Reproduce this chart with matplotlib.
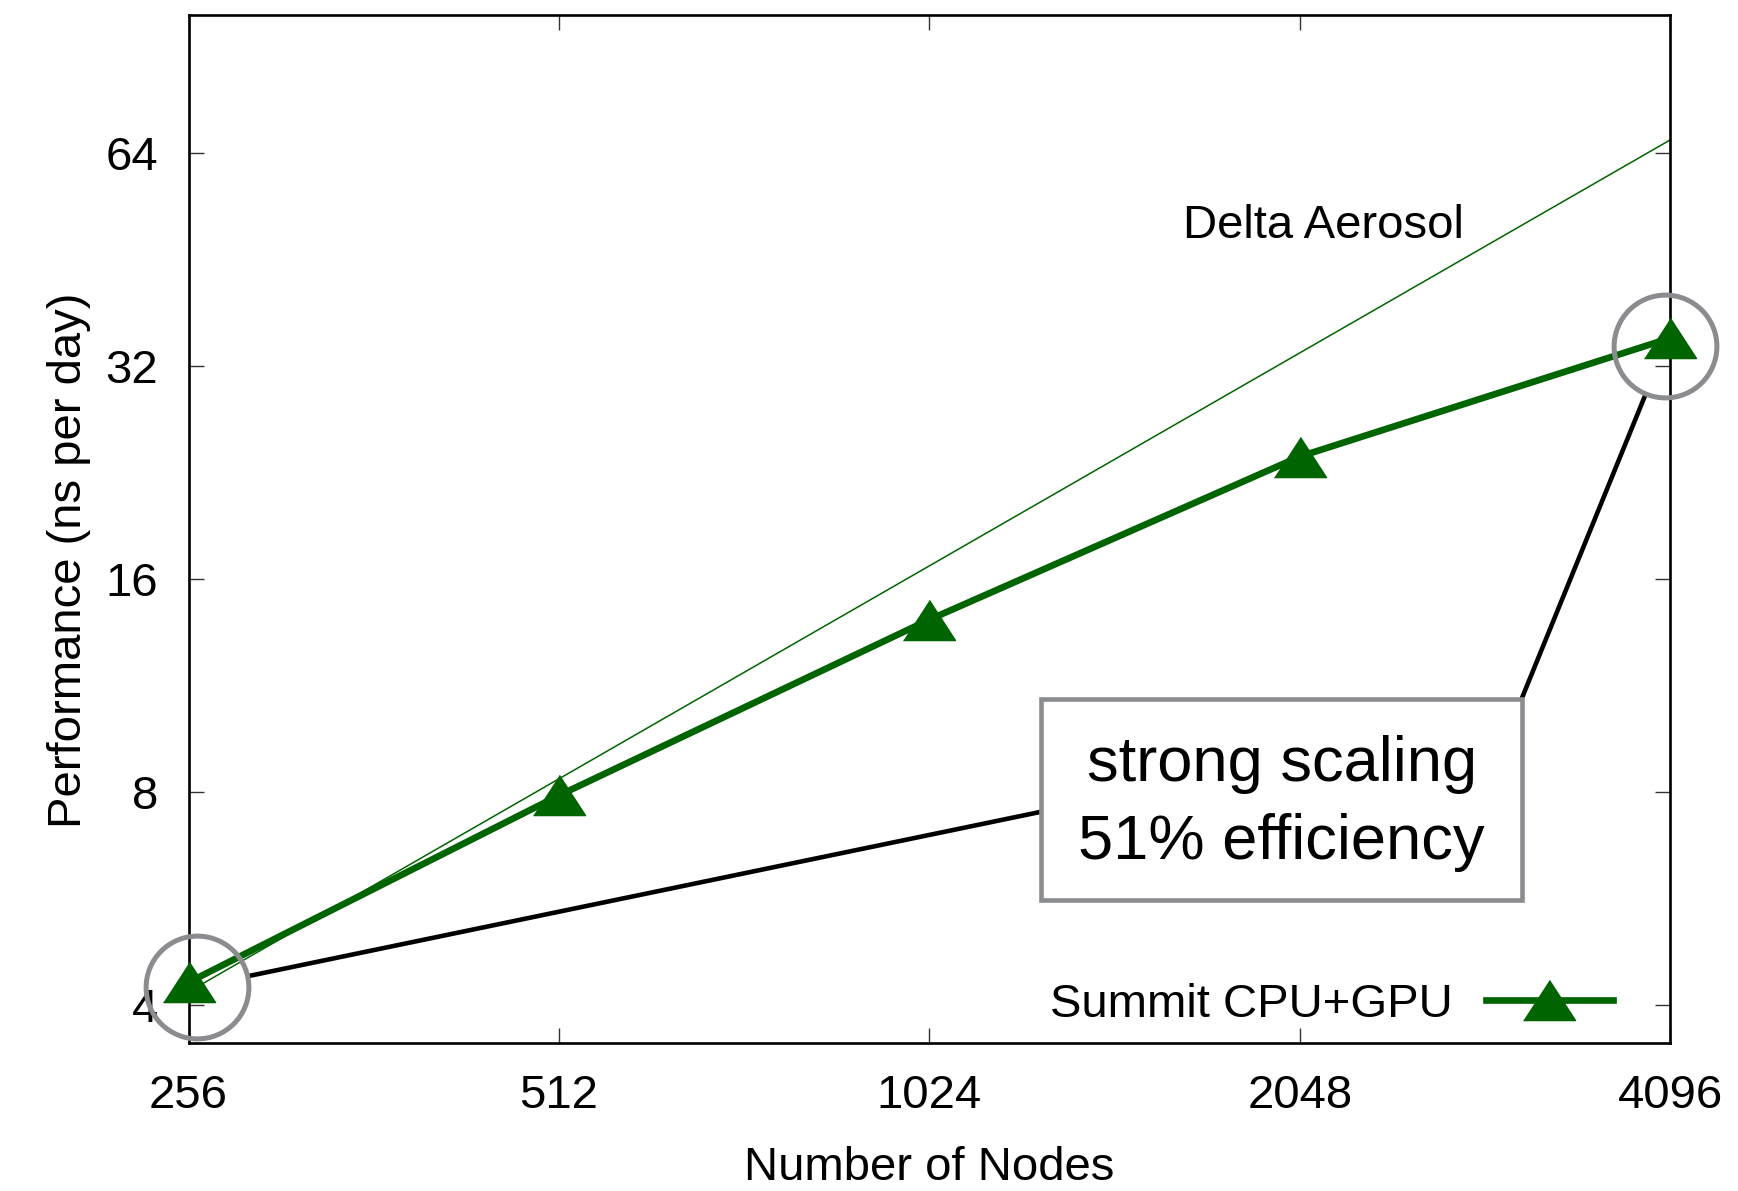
import matplotlib
matplotlib.use('Agg')
import matplotlib.pyplot as plt
from matplotlib.patches import Rectangle
from matplotlib.transforms import offset_copy

plt.rcParams['font.family'] = ['Liberation Sans', 'DejaVu Sans']

# data (ns/day vs node count, log2 axes)
nodes = [256, 512, 1024, 2048, 4096]
perf = [4.3, 7.9, 14.0, 23.8, 35.0]
ideal_nodes = [256, 4096]
ideal_perf = [4.17, 66.7]
x_ticks = [256, 512, 1024, 2048, 4096]
y_ticks = [4, 8, 16, 32, 64]

green = '#006400'
gray = '#8a8c90'

fig = plt.figure(figsize=(17.38, 11.91), dpi=100)
ax = fig.add_axes([0.1085, 0.1243, 0.8525, 0.8627])

ax.set_xscale('log', base=2)
ax.set_yscale('log', base=2)
ax.set_xlim(256, 4096)
ax.set_ylim(3.53, 100)
ax.set_xticks(x_ticks)
ax.set_xticklabels([str(v) for v in x_ticks])
ax.set_yticks(y_ticks)
ax.set_yticklabels([str(v) for v in y_ticks])
ax.minorticks_off()
ax.tick_params(which='major', direction='in', length=10.8, width=1, color='#333333',
               top=True, right=True, labelsize=34, pad=22)
for s in ax.spines.values():
    s.set_linewidth(1.9)

# ideal scaling line + measured
tri = [(-1, -0.77), (1, -0.77), (0, 0.77)]
ax.plot(ideal_nodes, ideal_perf, color=green, lw=1.1, zorder=2)
ax.plot(nodes, perf, color=green, lw=4.8, marker=tri, markersize=37.5,
        label='Summit CPU+GPU', zorder=4, clip_on=False)

ax.text(0.6713, 0.7835, 'Delta Aerosol', transform=ax.transAxes, fontsize=34, va='baseline')

# gray circles around first / last point
c1 = offset_copy(ax.transData, fig=fig, x=8, y=-4.5, units='dots')
c2 = offset_copy(ax.transData, fig=fig, x=-5, y=-8, units='dots')
ax.plot([nodes[0]], [perf[0]], transform=c1, marker='o', ms=74, mfc='none',
        mec=gray, mew=3.6, clip_on=False, zorder=5)
ax.plot([nodes[-1]], [perf[-1]], transform=c2, marker='o', ms=74, mfc='none',
        mec=gray, mew=3.6, clip_on=False, zorder=5)

# annotation box and connector lines
ax.add_patch(Rectangle((0.5754, 0.1392), 0.3247, 0.1956, transform=ax.transAxes,
                       fc='white', ec=gray, lw=3.3, zorder=6))
ax.text(0.7378, 0.233, 'strong scaling\n51% efficiency', transform=ax.transAxes,
        ha='center', va='center', fontsize=45.5, linespacing=1.4, zorder=7)
ax.annotate('', xy=(nodes[0], perf[0]), xycoords=c1, xytext=(0.5747, 0.2248),
            textcoords='axes fraction',
            arrowprops=dict(arrowstyle='-', color='black', lw=3.3, shrinkA=0, shrinkB=39),
            zorder=3)
ax.annotate('', xy=(nodes[-1], perf[-1]), xycoords=c2, xytext=(0.8994, 0.3338),
            textcoords='axes fraction',
            arrowprops=dict(arrowstyle='-', color='black', lw=3.3, shrinkA=0, shrinkB=39),
            zorder=3)

ax.legend(loc='center right', bbox_to_anchor=(0.9615, 0.037), frameon=False, fontsize=34,
          markerfirst=False, handlelength=2.7, handletextpad=0.7, borderpad=0,
          borderaxespad=0)

fig.text(0.5345, 0.0092, 'Number of Nodes', ha='center', va='baseline', fontsize=34)
fig.text(0.0397, 0.5298, 'Performance (ns per day)', rotation=90, ha='center',
         va='center', fontsize=34)

fig.savefig('out.png', dpi=100)
